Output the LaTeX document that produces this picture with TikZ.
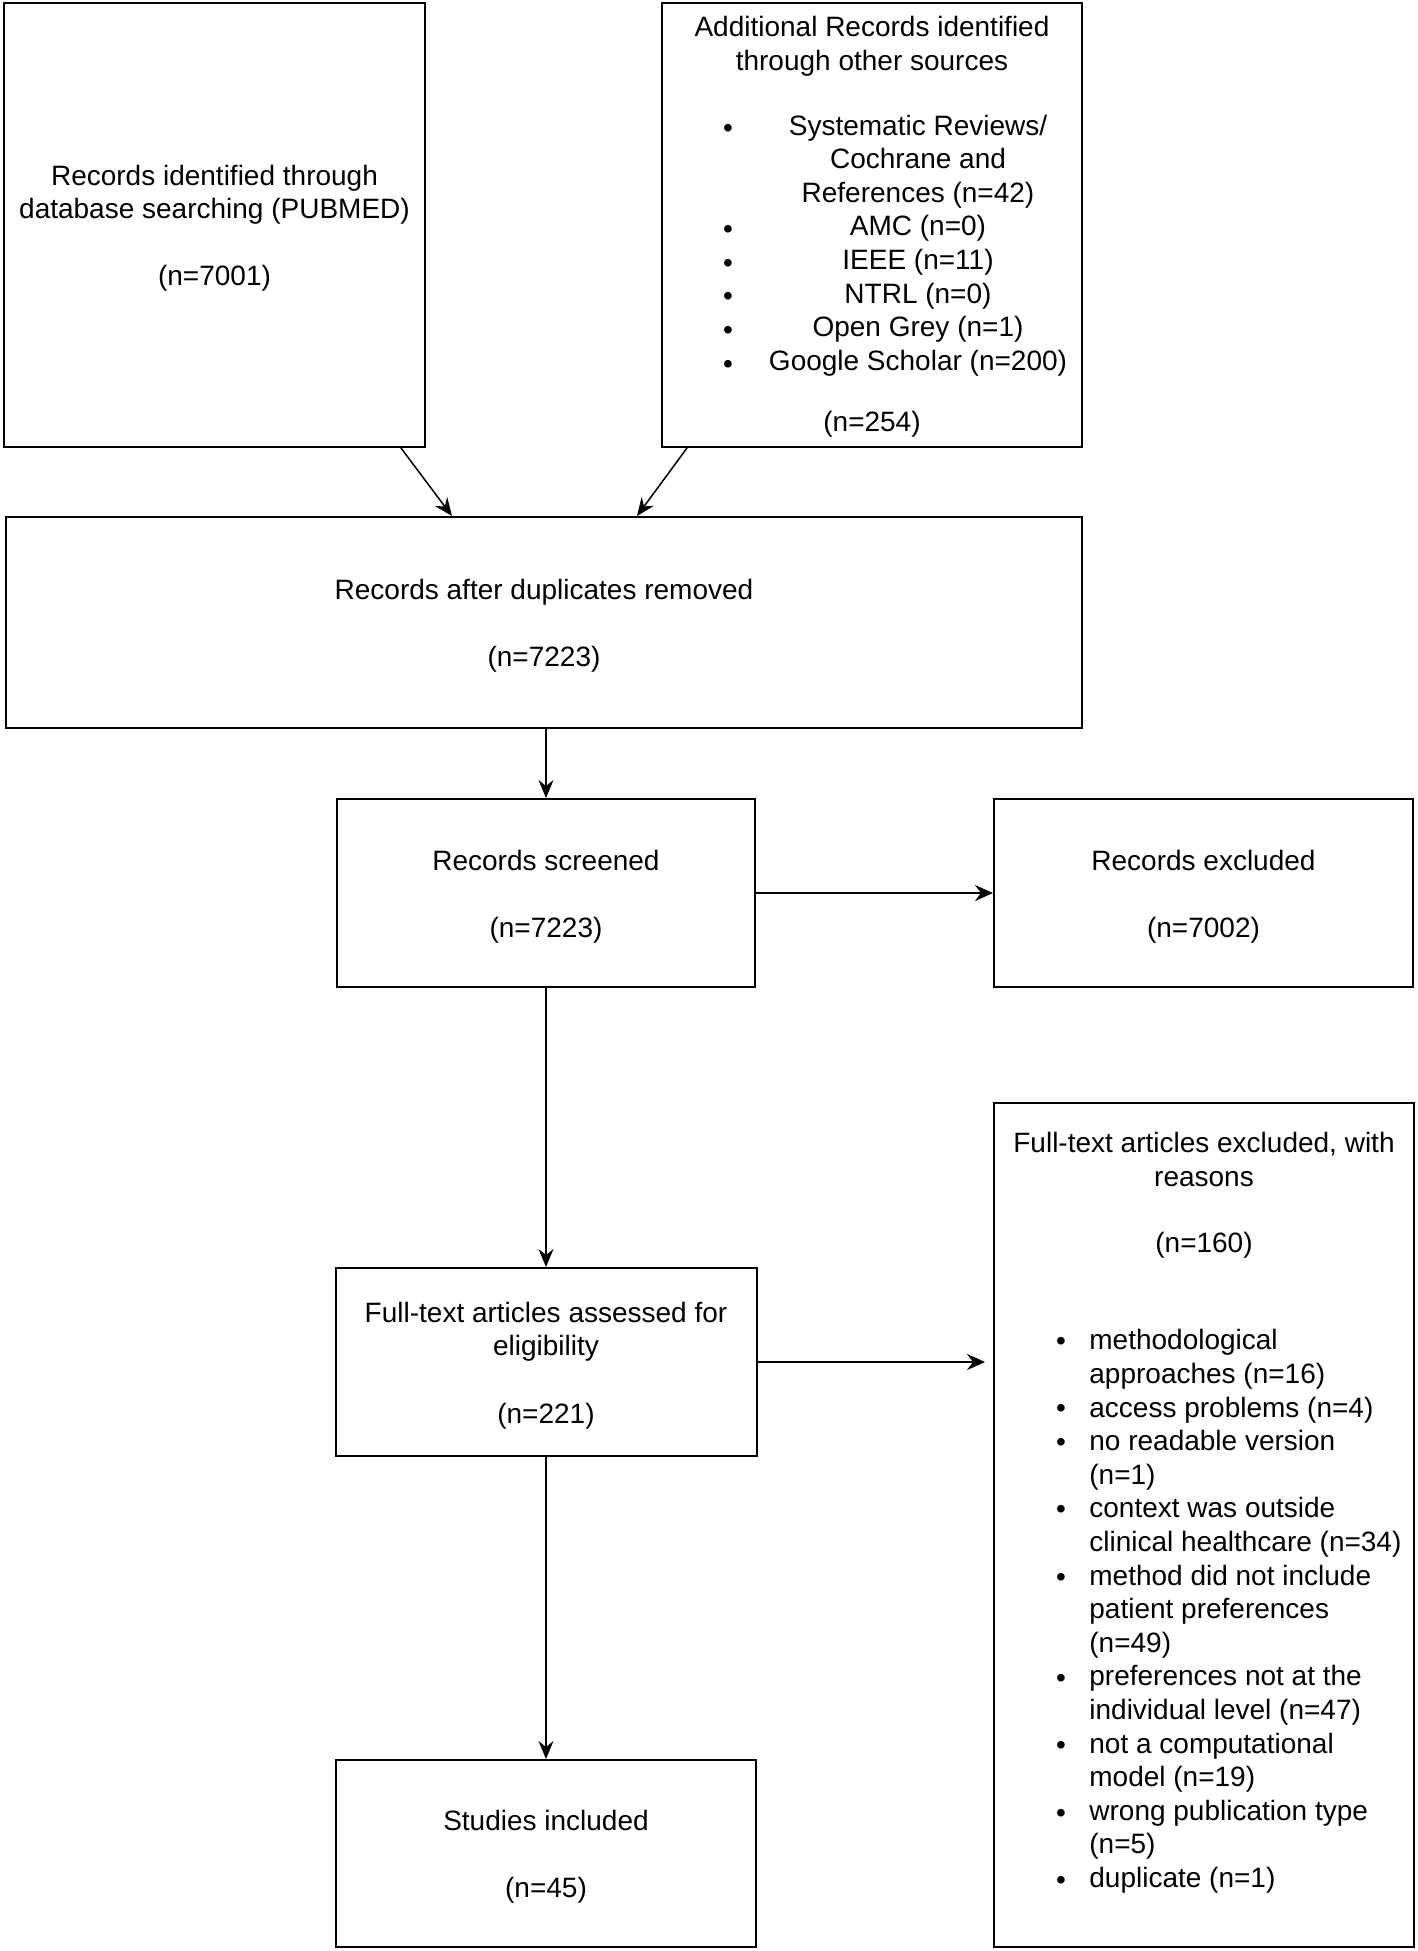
\documentclass[tikz,border=0pt]{standalone}
\usepackage{fontspec}
\setmainfont{Liberation Sans}
\usetikzlibrary{arrows.meta,calc}
\begin{document}
\begin{tikzpicture}[x=0.5pt,y=-0.5pt,
  box/.style={draw=black, line width=1pt, rectangle, inner sep=0pt},
  txt/.style={inner sep=0pt, align=center, yshift=-1.75pt,
    font=\fontsize{14pt}{16.8pt}\selectfont},
  arr/.style={line width=0.75pt, -{Stealth[length=9pt,width=7.5pt,inset=3pt]}},
  harr/.style={line width=1.1pt, -{Stealth[length=9pt,width=8pt,inset=3pt]}}]
\useasboundingbox (0,0) rectangle (1418,1951);

\node[box, minimum width=210.5pt, minimum height=222.25pt] (b1) at (214.5,224.75) {};
\node[txt] (b1t) at (b1.center)
  {Records identified through\\database searching (PUBMED)\\~\\(n=7001)};

\node[box, minimum width=210pt, minimum height=222.25pt] (b2) at (872,224.75) {};
\node[txt] (b2t) at (872,43) {Additional Records identified\\through other sources};
\node[txt] (b2l) at (918,242) {Systematic Reviews/\\Cochrane and\\References (n=42)\\AMC (n=0)\\IEEE (n=11)\\NTRL (n=0)\\Open Grey (n=1)\\Google Scholar (n=200)};
\node[txt] (b2n) at (872,421) {(n=254)};
\foreach \y [count=\i] in {124,225,259,292,326,360}
  \node[txt] (b2d\i) at (728,\y+3) {•};

\node[box, minimum width=538pt, minimum height=105.5pt] (b3) at (544,622.5) {};
\node[txt] (b3t) at (b3.center) {Records after duplicates removed\\~\\(n=7223)};

\node[box, minimum width=209pt, minimum height=94pt] (b4) at (546,893) {};
\node[txt] (b4t) at (b4.center) {Records screened\\~\\(n=7223)};

\node[box, minimum width=209.5pt, minimum height=94pt] (b5) at (1203.5,893) {};
\node[txt] (b5t) at (b5.center) {Records excluded\\~\\(n=7002)};

\node[box, minimum width=210.5pt, minimum height=94pt] (b6) at (546,1362) {};
\node[txt] (b6t) at (b6.center) {Full-text articles assessed for\\eligibility\\~\\(n=221)};

\node[box, minimum width=210pt, minimum height=422pt] (b7) at (1204,1525) {};
\node[txt] (b7t) at (1204,1156) {Full-text articles excluded, with\\reasons};
\node[txt] (b7n) at (1204,1242) {(n=160)};
\node[txt, align=left, anchor=west] (b7l) at (1089,1608)
  {methodological\\approaches (n=16)\\access problems (n=4)\\no readable version\\(n=1)\\context was outside\\clinical healthcare (n=34)\\method did not include\\patient preferences\\(n=49)\\preferences not at the\\individual level (n=47)\\not a computational\\model (n=19)\\wrong publication type\\(n=5)\\duplicate (n=1)};
\foreach \y [count=\i] in {1341,1408,1442,1509,1577,1678,1745,1813,1880}
  \node[txt] (b7d\i) at (1061,\y-0.5) {•};

\node[box, minimum width=210pt, minimum height=93.5pt] (b8) at (546,1853.5) {};
\node[txt] (b8t) at (b8.center) {Studies included\\~\\(n=45)};

\draw[arr] ([xshift=-12.5pt]b1.south east) -- ([xshift=-46pt]b3.north);
\draw[arr] ([xshift=13pt]b2.south west) -- ([xshift=46.5pt]b3.north);
\draw[arr] (b4.north |- b3.south) -- (b4.north);
\draw[harr] (b4.east) -- (b5.west);
\draw[arr] (b4.south) -- (b6.north);
\draw[harr, shorten >=4pt] (b6.east) -- (b6.east -| b7.west);
\draw[arr] (b6.south) -- (b8.north);
\end{tikzpicture}
\end{document}
